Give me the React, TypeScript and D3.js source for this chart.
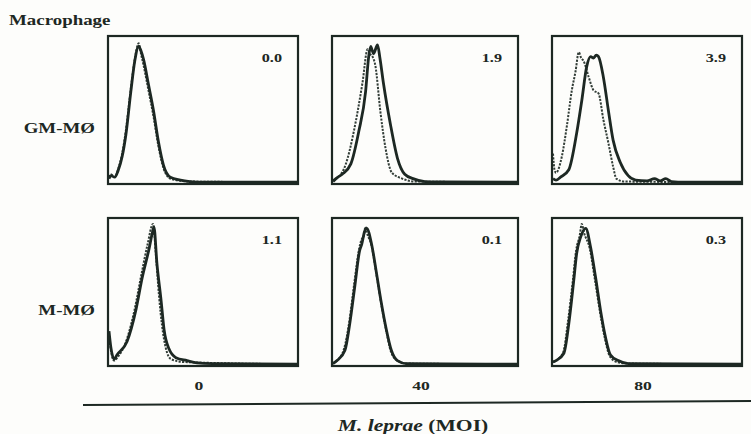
import React from "react";
import * as d3 from "d3";

const layout = {
    width: 751,
    height: 434
};

// the scanned figure is stretched sideways, so text is widened to match
const stretch = 1.35;
const ink = "#1d2823";
const serif = "'Liberation Serif', 'Times New Roman', serif";

const moiLabels = ["0", "40", "80"];
const cellTypes = ["GM-MØ", "M-MØ"];
const shiftValues = [
    [0.0, 1.9, 3.9],
    [1.1, 0.1, 0.3]
];

// histograms: [fluorescence channel 0-100, % of panel height]
const gm0Solid = [[0, 3], [1, 5], [3, 4], [5, 9], [7, 18], [9, 33], [11.6, 62], [13.7, 83], [15.8, 93], [17, 90], [18.4, 84], [21, 67], [23.7, 49], [26.3, 28], [29, 12], [32.6, 4], [38, 2], [43, 1], [50, 0.5], [100, 0.5]];
const gm0Dashed = [[0, 4], [1, 6], [3, 4], [5, 10], [7, 20], [9, 36], [11.6, 64], [13.7, 84], [15.8, 95], [17, 88], [18.4, 80], [21, 63], [23.7, 45], [26.3, 25], [29, 10], [32.6, 3], [38, 1.5], [43, 1], [100, 0.5]];
const gm40Solid = [[0, 1], [1.6, 3], [5, 6], [9.7, 13], [14, 35], [17.7, 62], [19.4, 86], [20.5, 93], [22, 88], [24.2, 94], [25.5, 85], [27.4, 68], [31.2, 40], [35, 17], [39, 6], [43.5, 3], [50, 1], [60, 0.8], [100, 0.5]];
const gm40Dashed = [[0, 2], [3, 4], [7, 13], [11.3, 35], [16, 68], [18.8, 91], [20, 88], [21.5, 86], [23, 80], [25.8, 48], [28.5, 24], [32, 7], [37.6, 3], [45, 1], [100, 0.5]];
const gm80Solid = [[0, 3], [1.6, 2], [4, 4], [8.4, 9], [12.6, 34], [15.3, 56], [17.9, 79], [20, 86], [21.6, 85], [23, 87], [24.2, 86], [26.8, 72], [29.5, 49], [32, 29], [35.8, 14], [40, 5], [44, 2], [50, 1.5], [54, 3], [57, 1.5], [60, 3], [63, 1], [70, 0.5], [100, 0.5]];
const gm80Dashed = [[0, 20], [0.8, 9], [1.6, 7], [4.7, 18], [7.4, 39], [10, 63], [12, 76], [13.7, 89], [15, 85], [16.3, 83], [19, 72], [21.6, 63], [24.2, 61], [26.8, 43], [29.5, 27], [32, 11], [33.7, 3], [38, 1], [100, 0.5]];
const m0Solid = [[0, 23], [1, 12], [2.7, 4], [4.3, 7], [9.6, 16], [14.4, 38], [17.6, 59], [21.3, 79], [22.9, 89], [23.9, 94], [25.5, 69], [27.7, 44], [29.3, 24], [31.9, 11], [35.6, 5], [41.5, 3], [46.8, 1.5], [55, 1], [100, 0.5]];
const m0Dashed = [[0, 20], [1, 10], [2.7, 3], [5, 6], [8.5, 14], [13.5, 37], [17, 60], [20.5, 82], [23.4, 96], [25, 74], [26.6, 47], [28.2, 27], [30.3, 11], [33, 4], [40, 2], [100, 0.5]];
const m40Solid = [[0, 1], [2.2, 3], [6.5, 10], [9.1, 28], [11.8, 53], [14.5, 78], [15.6, 82], [17.2, 91], [18.3, 93], [21, 82], [23.7, 62], [26.3, 42], [29, 24], [31.7, 10], [35, 3], [39.8, 1], [100, 0.5]];
const m40Dashed = [[0, 1], [2.2, 3], [6, 11], [8.8, 29], [11.5, 55], [14.2, 79], [15.4, 85], [16.8, 88], [17.6, 94], [18.4, 90], [21, 81], [23.7, 61], [26.3, 41], [29, 23], [31.5, 9], [35, 3], [40, 1], [100, 0.5]];
const m80Solid = [[0, 2], [1.6, 3], [5.8, 8], [8.4, 28], [11, 57], [12.6, 76], [14.7, 87], [17.4, 93], [20, 80], [22.6, 60], [25.3, 37], [27.9, 19], [30.5, 7], [34.7, 3], [40, 1], [100, 0.5]];
const m80Dashed = [[0, 2], [1.6, 3], [5.5, 9], [8, 30], [10.6, 58], [12.3, 78], [14.2, 88], [15.3, 96], [16.5, 90], [19.6, 79], [22.3, 58], [25, 36], [27.6, 18], [30.2, 6], [34, 2], [40, 1], [100, 0.5]];

const histograms = [
    [[gm0Solid, gm0Dashed], [gm40Solid, gm40Dashed], [gm80Solid, gm80Dashed]],
    [[m0Solid, m0Dashed], [m40Solid, m40Dashed], [m80Solid, m80Dashed]]
];

const colLeft = [108, 332, 552];
const colWidth = [190, 186, 190];
const rowTop = [36, 218];
const rowHeight = 148;

const Label = ({ x, y, size, anchor = "start", children }) => (
    <text
        transform={`translate(${x},${y}) scale(${stretch},1)`}
        textAnchor={anchor}
        fontFamily={serif}
        fontWeight="bold"
        fontSize={size}
        fill={ink}
    >
        {children}
    </text>
);

const Panel = ({ row, col }) => {
    const left = colLeft[col];
    const width = colWidth[col];
    const top = rowTop[row];
    const xScale = d3.scaleLinear().domain([0, 100]).range([left + 1, left + width - 1]);
    const yScale = d3.scaleLinear().domain([0, 100]).range([top + rowHeight - 1, top]);
    const lineGenerator = d3
        .line()
        .x(d => xScale(d[0]))
        .y(d => yScale(d[1]))
        .curve(d3.curveMonotoneX);
    const [solid, dashed] = histograms[row][col];
    const clipId = `clip-${row}-${col}`;

    return (
        <g>
            <clipPath id={clipId}>
                <rect x={left} y={top} width={width} height={rowHeight} />
            </clipPath>
            <g clipPath={`url(#${clipId})`}>
                <path
                    d={lineGenerator(dashed)}
                    fill="none"
                    stroke="#333e38"
                    strokeWidth={2}
                    strokeDasharray="2.2 1.3"
                />
                <path
                    d={lineGenerator(solid)}
                    fill="none"
                    stroke={ink}
                    strokeWidth={2.8}
                    strokeLinejoin="round"
                />
            </g>
            <rect
                x={left}
                y={top}
                width={width}
                height={rowHeight}
                fill="none"
                stroke={ink}
                strokeWidth={2.2}
            />
            <Label x={left + width - 16} y={top + 26} size={12} anchor="end">
                {shiftValues[row][col].toFixed(1)}
            </Label>
        </g>
    );
};

export default function App() {
    return (
        <svg
            width={layout.width}
            height={layout.height}
            style={{ position: "absolute", left: 0, top: 0, background: "#fdfdfb" }}
        >
            <Label x={9} y={25} size={14}>Macrophage</Label>
            {cellTypes.map((name, r) => (
                <Label key={name} x={95} y={rowTop[r] + 97} size={14} anchor="end">
                    {name}
                </Label>
            ))}
            {histograms.map((rowData, r) =>
                rowData.map((_, c) => <Panel key={`${r}-${c}`} row={r} col={c} />)
            )}
            {moiLabels.map((label, c) => (
                <Label
                    key={label}
                    x={colLeft[c] + colWidth[c] / 2 - 4}
                    y={390}
                    size={13}
                    anchor="middle"
                >
                    {label}
                </Label>
            ))}
            <line x1={83} y1={405} x2={751} y2={401} stroke={ink} strokeWidth={2} />
            <Label x={413} y={431} size={16} anchor="middle">
                <tspan fontStyle="italic">M. leprae</tspan> (MOI)
            </Label>
        </svg>
    );
}
